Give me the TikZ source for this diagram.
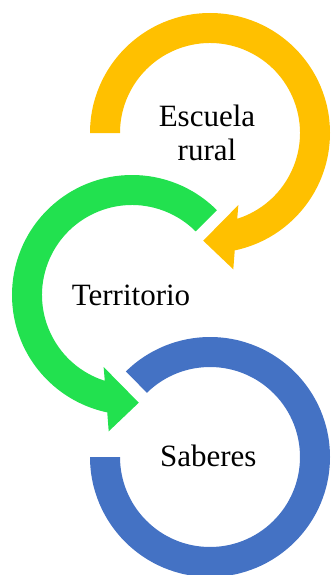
\documentclass[tikz,border=0pt]{standalone}
\usepackage{fontspec}
\setmainfont{Liberation Serif}
\definecolor{ygold}{HTML}{FFC000}
\definecolor{ggreen}{HTML}{22E14F}
\definecolor{bblue}{HTML}{4472C4}
\tikzset{
  lbl/.style={font=\fontsize{31}{35}\selectfont, text=black, inner sep=0pt, anchor=base},
}
\begin{document}
\begin{tikzpicture}[x=1pt,y=1pt]
\useasboundingbox (0,0) rectangle (330,-575);
% yellow arrow
\begin{scope}[shift={(210,-133)}]
\fill[ygold] (180:120pt) arc[start angle=180, end angle=-78.1, radius=120pt]
  -- (-80.3:138.3pt) -- (-93.6:107.9pt) -- (-68.5:77.4pt) -- (-72.4:90pt)
  arc[start angle=-72.4, end angle=180, radius=90pt] -- cycle;
\end{scope}
% green arrow
\begin{scope}[shift={(132,-295)}]
\fill[ggreen] (45:120pt) arc[start angle=45, end angle=258.1, radius=120pt]
  -- (260.3:138.3pt) -- (273.6:107.9pt) -- (248.5:77.4pt) -- (252.4:90pt)
  arc[start angle=252.4, end angle=45, radius=90pt] -- cycle;
\end{scope}
% blue ring
\begin{scope}[shift={(210,-457)}]
\fill[bblue] (180:120pt) arc[start angle=180, end angle=494.5, radius=120pt]
  -- (494.5:90pt) arc[start angle=494.5, end angle=180, radius=90pt] -- cycle;
\end{scope}
\node[lbl] (esc) at (207,-126) {Escuela};
\node[lbl] (rur) at (207,-160.7) {rural};
\node[lbl] (ter) at (131,-305) {Territorio};
\node[lbl] (sab) at (208.3,-466.7) {Saberes};
\end{tikzpicture}
\end{document}
